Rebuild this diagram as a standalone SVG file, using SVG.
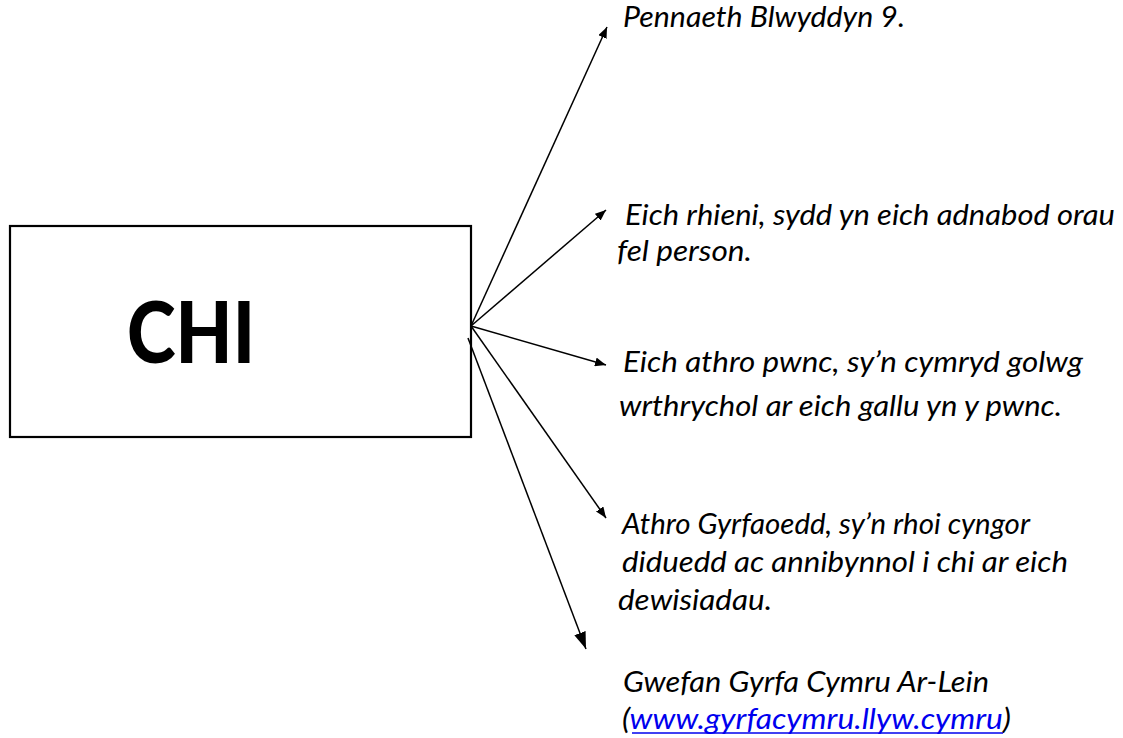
<svg xmlns="http://www.w3.org/2000/svg" width="1123" height="738" viewBox="0 0 1123 738">
<style>
.lbl{font-family:Lato,"Open Sans","Liberation Sans",sans-serif;font-style:italic;font-size:28.5px;fill:#000}
.conn{stroke:#000;stroke-width:1.5;fill:none}
</style>
<defs>
<marker id="ah" markerUnits="userSpaceOnUse" markerWidth="11" markerHeight="9" refX="11" refY="4.5" orient="auto"><path d="M0,0 L11,4.5 L0,9 z" fill="#000"/></marker>
<marker id="ahb" markerUnits="userSpaceOnUse" markerWidth="17" markerHeight="12" refX="17" refY="6" orient="auto"><path d="M0,0 L17,6 L0,12 z" fill="#000"/></marker>
</defs>
<rect width="1123" height="738" fill="#fff"/>
<g id="chi">
<rect x="10" y="226" width="461" height="211" fill="#fff" stroke="#000" stroke-width="2.2"/>
<text x="127" y="363" font-family="Lato,'Open Sans','Liberation Sans',sans-serif" font-weight="900" font-size="86" textLength="128" lengthAdjust="spacingAndGlyphs">CHI</text>
</g>
<g id="connectors">
<line class="conn" x1="471" y1="326" x2="607" y2="27" marker-end="url(#ah)"/>
<line class="conn" x1="471" y1="326" x2="606" y2="210" marker-end="url(#ah)"/>
<line class="conn" x1="471" y1="326" x2="606" y2="365" marker-end="url(#ah)"/>
<line class="conn" x1="471" y1="326" x2="606" y2="518" marker-end="url(#ah)"/>
<line class="conn" x1="468" y1="338" x2="586" y2="649" marker-end="url(#ahb)"/>
</g>
<g id="n1">
<text class="lbl" x="623" y="27" textLength="282" lengthAdjust="spacingAndGlyphs">Pennaeth Blwyddyn 9.</text>
</g>
<g id="n2">
<text class="lbl" x="625" y="225" textLength="490" lengthAdjust="spacingAndGlyphs">Eich rhieni, sydd yn eich adnabod orau</text>
<text class="lbl" x="617" y="261" textLength="135" lengthAdjust="spacingAndGlyphs">fel person.</text>
</g>
<g id="n3">
<text class="lbl" x="623" y="372" textLength="460" lengthAdjust="spacingAndGlyphs">Eich athro pwnc, sy’n cymryd golwg</text>
<text class="lbl" x="619" y="416" textLength="443" lengthAdjust="spacingAndGlyphs">wrthrychol ar eich gallu yn y pwnc.</text>
</g>
<g id="n4">
<text class="lbl" x="622" y="534" textLength="408" lengthAdjust="spacingAndGlyphs">Athro Gyrfaoedd, sy’n rhoi cyngor</text>
<text class="lbl" x="622" y="572" textLength="446" lengthAdjust="spacingAndGlyphs">diduedd ac annibynnol i chi ar eich</text>
<text class="lbl" x="618" y="610" textLength="154" lengthAdjust="spacingAndGlyphs">dewisiadau.</text>
</g>
<g id="n5">
<text class="lbl" x="623" y="692" textLength="366" lengthAdjust="spacingAndGlyphs">Gwefan Gyrfa Cymru Ar-Lein</text>
<text class="lbl" x="622" y="729" textLength="389" lengthAdjust="spacingAndGlyphs">(<tspan fill="#0000ee">www.gyrfacymru.llyw.cymru</tspan>)</text>
<line x1="632" y1="733" x2="1003" y2="733" stroke="#0000ee" stroke-width="1.5"/>
</g>
</svg>
